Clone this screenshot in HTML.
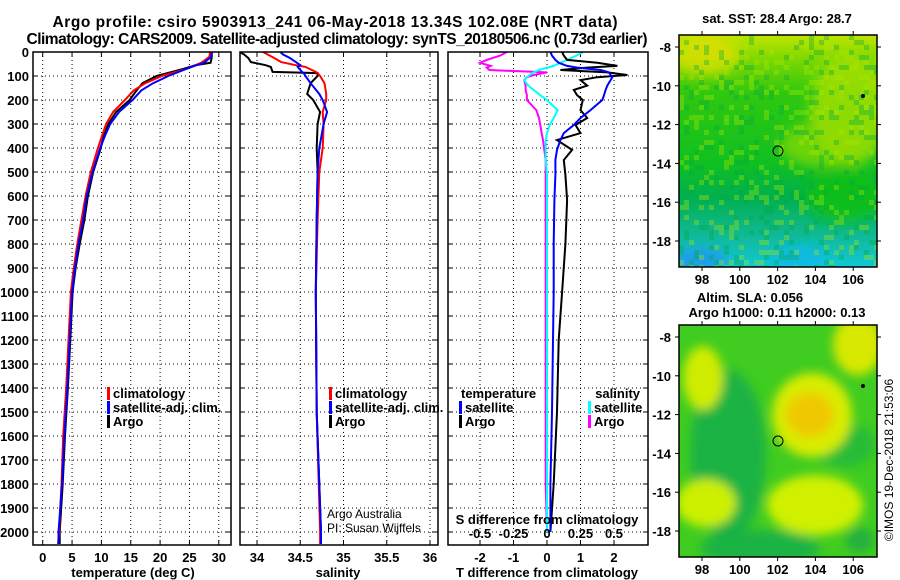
<!DOCTYPE html>
<html><head><meta charset="utf-8">
<style>
html,body{margin:0;padding:0;background:#fff;}
svg{display:block;font-family:"Liberation Sans",sans-serif;}
.b{font-weight:bold;}
</style></head>
<body>
<svg id="fig" width="900" height="580" viewBox="0 0 900 580" xmlns="http://www.w3.org/2000/svg">
<defs>
  <filter id="blur6" x="-50%" y="-50%" width="200%" height="200%"><feGaussianBlur stdDeviation="6"/></filter>
  <filter id="blur4" x="-50%" y="-50%" width="200%" height="200%"><feGaussianBlur stdDeviation="5"/></filter>
  <clipPath id="clipMap1"><rect x="679" y="35" width="198" height="232"/></clipPath>
  <clipPath id="clipMap2"><rect x="679" y="325" width="198" height="232"/></clipPath>
  <clipPath id="clipP1"><rect x="33" y="52" width="198" height="493"/></clipPath>
  <clipPath id="clipP2"><rect x="240" y="52" width="198" height="493"/></clipPath>
  <clipPath id="clipP3"><rect x="448" y="52" width="200" height="493"/></clipPath>
  <linearGradient id="sstGrad" x1="0" y1="0" x2="0" y2="1">
    <stop offset="0" stop-color="#c0e400"/>
    <stop offset="0.1" stop-color="#80d800"/>
    <stop offset="0.25" stop-color="#30c810"/>
    <stop offset="0.55" stop-color="#10c020"/>
    <stop offset="0.7" stop-color="#00b050"/>
    <stop offset="0.85" stop-color="#10b890"/>
    <stop offset="1" stop-color="#10c8d8"/>
  </linearGradient>
</defs>

<text class="b" x="335" y="27" font-size="15.5" text-anchor="middle" textLength="565">Argo profile: csiro 5903913_241 06-May-2018 13.34S 102.08E (NRT data)</text>
<text class="b" x="337" y="44" font-size="15.5" text-anchor="middle" textLength="621">Climatology: CARS2009. Satellite-adjusted climatology: synTS_20180506.nc (0.73d earlier)</text>

<g id="p1"></g>
<g id="p2"></g>
<g id="p3"></g>

<!-- SST map -->
<g>
  <text class="b" x="777" y="23" font-size="13" text-anchor="middle">sat. SST: 28.4 Argo: 28.7</text>
  <g clip-path="url(#clipMap1)">
    <rect x="679" y="35" width="198" height="232" fill="url(#sstGrad)"/>
    <g filter="url(#blur6)">
      <ellipse cx="850" cy="110" rx="40" ry="55" fill="#a8e000" opacity="0.8"/>
      <ellipse cx="820" cy="145" rx="40" ry="22" fill="#90dc00" opacity="0.7"/>
      <ellipse cx="705" cy="55" rx="35" ry="20" fill="#e0e000" opacity="0.8"/>
      <ellipse cx="845" cy="195" rx="40" ry="28" fill="#10c010" opacity="0.8"/>
      <ellipse cx="700" cy="260" rx="28" ry="12" fill="#2098f0" opacity="0.9"/>
      <ellipse cx="800" cy="258" rx="28" ry="12" fill="#10b8e8" opacity="0.9"/>
    </g>
    <g id="noise"></g>
    <circle cx="863" cy="96" r="2" fill="#000"/>
  </g>
  <circle cx="778" cy="151" r="5" fill="none" stroke="#000" stroke-width="1"/>
  <rect x="679" y="35" width="198" height="232" fill="none" stroke="#000" stroke-width="1.5"/>
</g>

<!-- SLA map -->
<g>
  <text class="b" x="750" y="302" font-size="13" text-anchor="middle">Altim. SLA: 0.056</text>
  <text class="b" x="777" y="317" font-size="13" text-anchor="middle">Argo h1000: 0.11 h2000: 0.13</text>
  <g clip-path="url(#clipMap2)">
    <rect x="679" y="325" width="198" height="232" fill="#40cc20"/>
    <g filter="url(#blur4)">
      <ellipse cx="728" cy="455" rx="38" ry="85" fill="#18b048" opacity="0.9"/>
      <ellipse cx="760" cy="548" rx="60" ry="18" fill="#18b048" opacity="0.9"/>
      <ellipse cx="845" cy="445" rx="30" ry="22" fill="#20b840" opacity="0.8"/>
      <ellipse cx="703" cy="378" rx="20" ry="32" fill="#d0ec00"/>
      <ellipse cx="812" cy="415" rx="40" ry="42" fill="#d8ec00"/>
      <ellipse cx="810" cy="415" rx="24" ry="22" fill="#f0c800"/>
      <ellipse cx="706" cy="503" rx="30" ry="24" fill="#ccf000"/>
      <ellipse cx="815" cy="505" rx="48" ry="30" fill="#d0f000"/>
      <ellipse cx="858" cy="345" rx="25" ry="30" fill="#d8e800"/>
      <ellipse cx="860" cy="540" rx="14" ry="12" fill="#20b040"/>
    </g>
    <circle cx="863" cy="386" r="2" fill="#000"/>
  </g>
  <circle cx="778" cy="441" r="5" fill="none" stroke="#000" stroke-width="1"/>
  <rect x="679" y="325" width="198" height="232" fill="none" stroke="#000" stroke-width="1.5"/>
</g>
<g id="mapaxes"></g>
<text x="893" y="460" font-size="12" text-anchor="middle" transform="rotate(-90 893 460)">©IMOS 19-Dec-2018 21:53:06</text>
</svg>
<script>
// ---------- data ----------
const tDepth = [0,20,45,55,70,100,130,160,200,250,300,350,400,500,600,700,800,900,1000,1200,1400,1600,1800,2000,2050];
const tClim  = [28.5,28.4,27,26,24.5,20.3,17.5,15.5,14,12,10.8,10.1,9.4,8.2,7.3,6.6,5.9,5.3,4.8,4.4,4.0,3.5,3.2,2.8,2.6];
const tSat   = [28.8,28.7,27.5,26.2,24.5,21.4,18.8,16.8,15.3,13,11.5,10.6,9.8,8.5,7.5,6.9,6.1,5.5,5.0,4.6,4.2,3.7,3.3,2.7,2.7];
const tArgo  = [28.8,28.8,28.6,26,24,19.4,17,16,14.8,12.5,11.2,10.4,9.9,8.6,7.7,7.1,6.3,5.6,5.1,4.7,4.3,3.8,3.4,2.9,2.9];

const sDepth = [0,10,25,42,55,62,83,88,100,130,175,200,250,300,400,500,700,1000,1500,2000,2050];
const sClim  = [34.07,34.12,34.2,34.28,34.45,34.56,34.68,34.7,34.73,34.78,34.8,34.8,34.76,34.77,34.76,34.72,34.7,34.68,34.69,34.73,34.73];
const sSat   = [34.27,34.3,34.38,34.45,34.5,34.47,34.52,34.54,34.56,34.62,34.72,34.76,34.81,34.77,34.72,34.7,34.69,34.68,34.69,34.74,34.74];
const sArgo  = [33.8,33.85,33.9,33.93,34.1,34.16,34.18,34.7,34.7,34.62,34.58,34.65,34.73,34.7,34.69,34.7,34.69,34.68,34.69,34.74,34.74];

const dDepth = [0,15,33,45,58,65,75,85,96,105,117,140,158,180,200,242,275,304,338,367,408,450,512,617,800,1000,1200,1500,1800,2000];
const dTArgo = [0.45,0.5,0.6,1.5,2.1,1.2,0.4,1.8,2.4,1.5,1.0,1.2,0.8,0.9,1.07,1.0,1.2,0.85,1.0,0.3,0.75,0.5,0.55,0.6,0.55,0.45,0.35,0.3,0.2,0.1];
const dTSat  = [0.1,0.15,0.25,0.35,0.6,0.9,1.6,1.85,1.9,1.95,1.9,1.8,1.75,1.7,1.65,1.3,1.0,0.8,0.5,0.4,0.3,0.25,0.25,0.22,0.2,0.2,0.18,0.15,0.1,0.1];
const dSArgo = [-0.3,-0.35,-0.45,-0.5,-0.42,-0.45,-0.43,0.0,-0.1,-0.15,-0.17,-0.16,-0.16,-0.15,-0.15,-0.08,-0.06,-0.05,-0.04,-0.03,-0.02,-0.01,-0.01,-0.01,-0.01,-0.01,-0.01,-0.01,-0.01,0.0];
const dSSat  = [0.27,0.22,0.15,0.1,0.05,0.0,-0.06,-0.1,-0.13,-0.15,-0.17,-0.14,-0.1,-0.05,0.0,0.08,0.05,0.02,0.0,-0.01,-0.01,-0.01,0,0,0,0,0,0,0,0];

const depthTicks = [0,100,200,300,400,500,600,700,800,900,1000,1100,1200,1300,1400,1500,1600,1700,1800,1900,2000];
const tTicks = [0,5,10,15,20,25,30];
const sTicks = [34,34.5,35,35.5,36];
const sTickLabels = ["34","34.5","35","35.5","36"];
const dTTicks = [-2,-1,0,1,2];
const dSTicks = [-0.5,-0.25,0,0.25,0.5];
const dSTickLabels = ["-0.5","-0.25","0","0.25","0.5"];
const lonTicks = [98,100,102,104,106];
const latTicks = [-8,-10,-12,-14,-16,-18];

// ---------- scales ----------
const yD = d => 52 + d*0.24;
const xT = t => 42.7 + t*5.87;
const xS = s => 257 + (s-34)*86.5;
const xDT = t => 547 + t*33.5;
const xDS = s => 547 + s*134;
const xLon = l => 702 + (l-98)*18.9;
const yLat1 = l => 47 + (-8-l)*19.4;
const yLat2 = l => 337 + (-8-l)*19.4;

const NS = "http://www.w3.org/2000/svg";
function mk(tag, parent, attrs){ const e=document.createElementNS(NS,tag); for(const k in attrs) e.setAttribute(k,attrs[k]); parent.appendChild(e); return e; }
function txt(parent, x, y, s, size, anchor, bold){ const e=mk('text',parent,{x:x,y:y,'font-size':size,'text-anchor':anchor}); if(bold) e.setAttribute('class','b'); e.textContent=s; return e; }

// SST pixel texture (deterministic)
(function(){
  const g=document.getElementById('noise');
  let h=12345;
  for(let y=35;y<267;y+=5){ for(let x=679;x<877;x+=5){
    h=(h*1103515245+12345)&0x7fffffff;
    const r=(h>>8)%100;
    if(r<30){ mk('rect',g,{x:x,y:y,width:5,height:5,fill:r<15?'#b0e800':'#00a840',opacity:0.35}); }
  }}
})();

function panel(g, x0, x1, xTickVals, xScale, xLabels){
  const top=52, bot=545;
  for(const d of depthTicks){
    if(d>0){ mk('line',g,{x1:x0,x2:x1,y1:yD(d),y2:yD(d),stroke:'#000','stroke-width':1,'stroke-dasharray':'1,3'}); }
    mk('line',g,{x1:x0,x2:x0+5,y1:yD(d),y2:yD(d),stroke:'#000'});
    mk('line',g,{x1:x1-5,x2:x1,y1:yD(d),y2:yD(d),stroke:'#000'});
  }
  xTickVals.forEach((v,i)=>{
    const x=xScale(v);
    mk('line',g,{x1:x,x2:x,y1:top,y2:bot,stroke:'#000','stroke-width':1,'stroke-dasharray':'1,3'});
    mk('line',g,{x1:x,x2:x,y1:top,y2:top+5,stroke:'#000'});
    mk('line',g,{x1:x,x2:x,y1:bot-5,y2:bot,stroke:'#000'});
    if(xLabels){ const t=txt(g,x,562,xLabels[i],13,'middle',true);
      
       }
  });
}
function series(g, clip, depths, vals, xScale, color, name, w){
  const pts=[]; depths.forEach((d,i)=>{ if(vals[i]!==null) pts.push(xScale(vals[i]).toFixed(1)+','+yD(d).toFixed(1)); });
  const p=mk('polyline',g,{points:pts.join(' '),fill:'none',stroke:color,'stroke-width':w||2,'clip-path':clip});
  
  
}
function frame(g,x0,x1){ mk('rect',g,{x:x0,y:52,width:x1-x0,height:493,fill:'none',stroke:'#000','stroke-width':1.5}); }
function legendEntry(g,x,y,color,label,name){
  mk('rect',g,{x:x,y:y-11,width:3,height:13,fill:color});
  const t=txt(g,x+6,y,label,13,'start',true);
  
  
}

// Panel 1
const p1=document.getElementById('p1');
panel(p1,33,231,tTicks,xT,tTicks.map(String));
depthTicks.forEach(d=>{ const t=txt(p1,29,yD(d)+5,String(d),13,'end',true);
  
   });
series(p1,'url(#clipP1)',tDepth,tArgo,xT,'#000','temp-argo-line');
series(p1,'url(#clipP1)',tDepth,tClim,xT,'#f00','temp-climatology-line');
series(p1,'url(#clipP1)',tDepth,tSat,xT,'#00f','temp-satellite-line');
frame(p1,33,231);
legendEntry(p1,107,398,'#f00','climatology','legend-climatology');
legendEntry(p1,107,412,'#00f','satellite-adj. clim.','legend-satellite');
legendEntry(p1,107,426,'#000','Argo','legend-argo');
{const t=txt(p1,133,577,'temperature (deg C)',13,'middle',true);  }

// Panel 2
const p2=document.getElementById('p2');
panel(p2,240,438,sTicks,xS,sTickLabels);
series(p2,'url(#clipP2)',sDepth,sArgo,xS,'#000','sal-argo-line');
series(p2,'url(#clipP2)',sDepth,sClim,xS,'#f00','sal-climatology-line');
series(p2,'url(#clipP2)',sDepth,sSat,xS,'#00f','sal-satellite-line');
frame(p2,240,438);
legendEntry(p2,329,398,'#f00','climatology','legend-climatology-2');
legendEntry(p2,329,412,'#00f','satellite-adj. clim.','legend-satellite-2');
legendEntry(p2,329,426,'#000','Argo','legend-argo-2');
txt(p2,327,518,'Argo Australia',12,'start',false);
txt(p2,327,532,'PI: Susan Wijffels',12,'start',false);
{const t=txt(p2,338,577,'salinity',13,'middle',true);  }

// Panel 3
const p3=document.getElementById('p3');
panel(p3,448,648,dTTicks,xDT,dTTicks.map(String));
series(p3,'url(#clipP3)',dDepth,dSArgo,xDS,'#f0f','s-diff-argo-line');
series(p3,'url(#clipP3)',dDepth,dSSat,xDS,'#0ff','s-diff-satellite-line');
series(p3,'url(#clipP3)',dDepth,dTArgo,xDT,'#000','t-diff-argo-line');
series(p3,'url(#clipP3)',dDepth,dTSat,xDT,'#00f','t-diff-satellite-line');
frame(p3,448,648);
txt(p3,461,398,'temperature',13,'start',true);
legendEntry(p3,459,412,'#00f','satellite','legend-t-satellite');
legendEntry(p3,459,426,'#000','Argo','legend-t-argo');
txt(p3,640,398,'salinity',13,'end',true);
legendEntry(p3,588,412,'#0ff','satellite','legend-s-satellite');
legendEntry(p3,588,426,'#f0f','Argo','legend-s-argo');
txt(p3,547,524,'S difference from climatology',13,'middle',true);
dSTicks.forEach((v,i)=>{ const t=txt(p3,xDS(v),538,dSTickLabels[i],13,'middle',true);
  
   });
{const t=txt(p3,547,577,'T difference from climatology',13,'middle',true);  }

// Map axes
const ma=document.getElementById('mapaxes');
[[35,267,yLat1],[325,557,yLat2]].forEach(([top,bot,yl])=>{
  lonTicks.forEach(l=>{ const x=xLon(l);
    mk('line',ma,{x1:x,x2:x,y1:top-4,y2:top,stroke:'#000'});
    mk('line',ma,{x1:x,x2:x,y1:bot,y2:bot+4,stroke:'#000'});
    const t=txt(ma,x,bot+17,String(l),13,'middle',true);
    
    
  });
  latTicks.forEach(l=>{ const y=yl(l);
    mk('line',ma,{x1:675,x2:679,y1:y,y2:y,stroke:'#000'});
    mk('line',ma,{x1:877,x2:881,y1:y,y2:y,stroke:'#000'});
    const t=txt(ma,671,y+5,String(l),13,'end',true);
    
    
  });
});
</script>
</body></html>
